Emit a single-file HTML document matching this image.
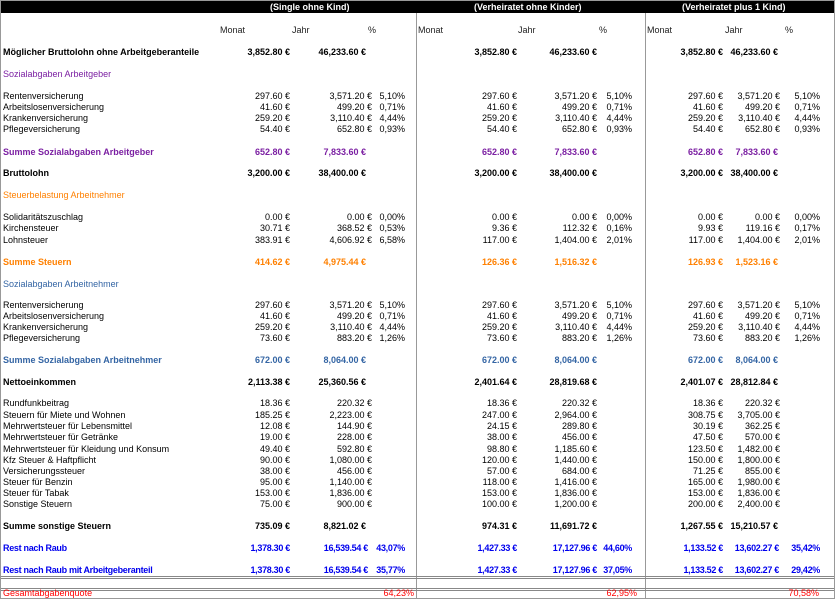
<!DOCTYPE html>
<html><head><meta charset="utf-8"><style>
body{margin:0;width:835px;height:600px;background:#fff;position:relative;overflow:hidden;font-family:"Liberation Sans",sans-serif;font-size:9px;color:#000}
.hb{position:absolute;top:1px;left:1px;width:833px;height:12px;background:#000}
.ht{position:absolute;top:1px;height:12px;line-height:12px;color:#fff;font-weight:bold;font-size:9px}
.v{position:absolute;top:13px;width:1px;height:585px;background:#999}
.h{position:absolute;left:1px;width:833px;height:1px;background:#888}
.r{position:absolute;left:0;width:835px;height:12px;line-height:12px}
.r span{position:absolute;white-space:nowrap}
.l{left:3px}
.a1{right:545px}.b1{right:463px}.c1{right:430px}
.a2{right:318px}.b2{right:238px}.c2{right:203px}
.a3{right:112px}.b3{right:55px}.c3{right:15px}
.bd{font-weight:bold}
.bd .b1{right:469px}.bd .b2{right:238px}.bd .b3{right:57px}
.pu{color:#7b1fa2}.or{color:#ff8000}.bl{color:#3465a4}.bb{color:#0000ee;font-weight:bold;letter-spacing:-0.3px}.rd{color:#ff0000}
.bb .b1{right:467px}.bb .b3{right:56px}
</style></head><body>
<div class="hb"></div>
<div class="ht" style="left:270px">(Single ohne Kind)</div>
<div class="ht" style="left:474px">(Verheiratet ohne Kinder)</div>
<div class="ht" style="left:682px">(Verheiratet plus 1 Kind)</div>
<div style="position:absolute;left:0;top:0;width:833px;height:597px;border:1px solid #999"></div>
<div class="v" style="left:416px"></div>
<div class="v" style="left:645px"></div>
<div class="h" style="top:576px"></div>
<div class="h" style="top:578px"></div>
<div class="h" style="top:588px"></div>
<div class="h" style="top:590px"></div>

<div class="r" style="top:24px;color:#222"><span style="left:220px">Monat</span><span style="left:292px">Jahr</span><span style="left:368px">%</span><span style="left:418px">Monat</span><span style="left:518px">Jahr</span><span style="left:599px">%</span><span style="left:647px">Monat</span><span style="left:725px">Jahr</span><span style="left:785px">%</span></div>

<div class="r bd" style="top:46px"><span class="l">Möglicher Bruttolohn ohne Arbeitgeberanteile</span><span class="a1">3,852.80 €</span><span class="b1">46,233.60 €</span><span class="a2">3,852.80 €</span><span class="b2">46,233.60 €</span><span class="a3">3,852.80 €</span><span class="b3">46,233.60 €</span></div>
<div class="r pu" style="top:68px"><span class="l">Sozialabgaben Arbeitgeber</span></div>

<div class="r" style="top:90px"><span class="l">Rentenversicherung</span><span class="a1">297.60 €</span><span class="b1">3,571.20 €</span><span class="c1">5,10%</span><span class="a2">297.60 €</span><span class="b2">3,571.20 €</span><span class="c2">5,10%</span><span class="a3">297.60 €</span><span class="b3">3,571.20 €</span><span class="c3">5,10%</span></div>
<div class="r" style="top:101px"><span class="l">Arbeitslosenversicherung</span><span class="a1">41.60 €</span><span class="b1">499.20 €</span><span class="c1">0,71%</span><span class="a2">41.60 €</span><span class="b2">499.20 €</span><span class="c2">0,71%</span><span class="a3">41.60 €</span><span class="b3">499.20 €</span><span class="c3">0,71%</span></div>
<div class="r" style="top:112px"><span class="l">Krankenversicherung</span><span class="a1">259.20 €</span><span class="b1">3,110.40 €</span><span class="c1">4,44%</span><span class="a2">259.20 €</span><span class="b2">3,110.40 €</span><span class="c2">4,44%</span><span class="a3">259.20 €</span><span class="b3">3,110.40 €</span><span class="c3">4,44%</span></div>
<div class="r" style="top:123px"><span class="l">Pflegeversicherung</span><span class="a1">54.40 €</span><span class="b1">652.80 €</span><span class="c1">0,93%</span><span class="a2">54.40 €</span><span class="b2">652.80 €</span><span class="c2">0,93%</span><span class="a3">54.40 €</span><span class="b3">652.80 €</span><span class="c3">0,93%</span></div>

<div class="r bd pu" style="top:146px"><span class="l">Summe Sozialabgaben Arbeitgeber</span><span class="a1">652.80 €</span><span class="b1">7,833.60 €</span><span class="a2">652.80 €</span><span class="b2">7,833.60 €</span><span class="a3">652.80 €</span><span class="b3">7,833.60 €</span></div>
<div class="r bd" style="top:167px"><span class="l">Bruttolohn</span><span class="a1">3,200.00 €</span><span class="b1">38,400.00 €</span><span class="a2">3,200.00 €</span><span class="b2">38,400.00 €</span><span class="a3">3,200.00 €</span><span class="b3">38,400.00 €</span></div>
<div class="r or" style="top:189px"><span class="l">Steuerbelastung Arbeitnehmer</span></div>

<div class="r" style="top:211px"><span class="l">Solidaritätszuschlag</span><span class="a1">0.00 €</span><span class="b1">0.00 €</span><span class="c1">0,00%</span><span class="a2">0.00 €</span><span class="b2">0.00 €</span><span class="c2">0,00%</span><span class="a3">0.00 €</span><span class="b3">0.00 €</span><span class="c3">0,00%</span></div>
<div class="r" style="top:222px"><span class="l">Kirchensteuer</span><span class="a1">30.71 €</span><span class="b1">368.52 €</span><span class="c1">0,53%</span><span class="a2">9.36 €</span><span class="b2">112.32 €</span><span class="c2">0,16%</span><span class="a3">9.93 €</span><span class="b3">119.16 €</span><span class="c3">0,17%</span></div>
<div class="r" style="top:234px"><span class="l">Lohnsteuer</span><span class="a1">383.91 €</span><span class="b1">4,606.92 €</span><span class="c1">6,58%</span><span class="a2">117.00 €</span><span class="b2">1,404.00 €</span><span class="c2">2,01%</span><span class="a3">117.00 €</span><span class="b3">1,404.00 €</span><span class="c3">2,01%</span></div>

<div class="r bd or" style="top:256px"><span class="l">Summe Steuern</span><span class="a1">414.62 €</span><span class="b1">4,975.44 €</span><span class="a2">126.36 €</span><span class="b2">1,516.32 €</span><span class="a3">126.93 €</span><span class="b3">1,523.16 €</span></div>
<div class="r bl" style="top:278px"><span class="l">Sozialabgaben Arbeitnehmer</span></div>

<div class="r" style="top:299px"><span class="l">Rentenversicherung</span><span class="a1">297.60 €</span><span class="b1">3,571.20 €</span><span class="c1">5,10%</span><span class="a2">297.60 €</span><span class="b2">3,571.20 €</span><span class="c2">5,10%</span><span class="a3">297.60 €</span><span class="b3">3,571.20 €</span><span class="c3">5,10%</span></div>
<div class="r" style="top:310px"><span class="l">Arbeitslosenversicherung</span><span class="a1">41.60 €</span><span class="b1">499.20 €</span><span class="c1">0,71%</span><span class="a2">41.60 €</span><span class="b2">499.20 €</span><span class="c2">0,71%</span><span class="a3">41.60 €</span><span class="b3">499.20 €</span><span class="c3">0,71%</span></div>
<div class="r" style="top:321px"><span class="l">Krankenversicherung</span><span class="a1">259.20 €</span><span class="b1">3,110.40 €</span><span class="c1">4,44%</span><span class="a2">259.20 €</span><span class="b2">3,110.40 €</span><span class="c2">4,44%</span><span class="a3">259.20 €</span><span class="b3">3,110.40 €</span><span class="c3">4,44%</span></div>
<div class="r" style="top:332px"><span class="l">Pflegeversicherung</span><span class="a1">73.60 €</span><span class="b1">883.20 €</span><span class="c1">1,26%</span><span class="a2">73.60 €</span><span class="b2">883.20 €</span><span class="c2">1,26%</span><span class="a3">73.60 €</span><span class="b3">883.20 €</span><span class="c3">1,26%</span></div>

<div class="r bd bl" style="top:354px"><span class="l">Summe Sozialabgaben Arbeitnehmer</span><span class="a1">672.00 €</span><span class="b1">8,064.00 €</span><span class="a2">672.00 €</span><span class="b2">8,064.00 €</span><span class="a3">672.00 €</span><span class="b3">8,064.00 €</span></div>
<div class="r bd" style="top:376px"><span class="l">Nettoeinkommen</span><span class="a1">2,113.38 €</span><span class="b1">25,360.56 €</span><span class="a2">2,401.64 €</span><span class="b2">28,819.68 €</span><span class="a3">2,401.07 €</span><span class="b3">28,812.84 €</span></div>

<div class="r" style="top:397px"><span class="l">Rundfunkbeitrag</span><span class="a1">18.36 €</span><span class="b1">220.32 €</span><span class="a2">18.36 €</span><span class="b2">220.32 €</span><span class="a3">18.36 €</span><span class="b3">220.32 €</span></div>
<div class="r" style="top:409px"><span class="l">Steuern für Miete und Wohnen</span><span class="a1">185.25 €</span><span class="b1">2,223.00 €</span><span class="a2">247.00 €</span><span class="b2">2,964.00 €</span><span class="a3">308.75 €</span><span class="b3">3,705.00 €</span></div>
<div class="r" style="top:420px"><span class="l">Mehrwertsteuer für Lebensmittel</span><span class="a1">12.08 €</span><span class="b1">144.90 €</span><span class="a2">24.15 €</span><span class="b2">289.80 €</span><span class="a3">30.19 €</span><span class="b3">362.25 €</span></div>
<div class="r" style="top:431px"><span class="l">Mehrwertsteuer für Getränke</span><span class="a1">19.00 €</span><span class="b1">228.00 €</span><span class="a2">38.00 €</span><span class="b2">456.00 €</span><span class="a3">47.50 €</span><span class="b3">570.00 €</span></div>
<div class="r" style="top:443px"><span class="l">Mehrwertsteuer für Kleidung und Konsum</span><span class="a1">49.40 €</span><span class="b1">592.80 €</span><span class="a2">98.80 €</span><span class="b2">1,185.60 €</span><span class="a3">123.50 €</span><span class="b3">1,482.00 €</span></div>
<div class="r" style="top:454px"><span class="l">Kfz Steuer &amp; Haftpflicht</span><span class="a1">90.00 €</span><span class="b1">1,080.00 €</span><span class="a2">120.00 €</span><span class="b2">1,440.00 €</span><span class="a3">150.00 €</span><span class="b3">1,800.00 €</span></div>
<div class="r" style="top:465px"><span class="l">Versicherungssteuer</span><span class="a1">38.00 €</span><span class="b1">456.00 €</span><span class="a2">57.00 €</span><span class="b2">684.00 €</span><span class="a3">71.25 €</span><span class="b3">855.00 €</span></div>
<div class="r" style="top:476px"><span class="l">Steuer für Benzin</span><span class="a1">95.00 €</span><span class="b1">1,140.00 €</span><span class="a2">118.00 €</span><span class="b2">1,416.00 €</span><span class="a3">165.00 €</span><span class="b3">1,980.00 €</span></div>
<div class="r" style="top:487px"><span class="l">Steuer für Tabak</span><span class="a1">153.00 €</span><span class="b1">1,836.00 €</span><span class="a2">153.00 €</span><span class="b2">1,836.00 €</span><span class="a3">153.00 €</span><span class="b3">1,836.00 €</span></div>
<div class="r" style="top:498px"><span class="l">Sonstige Steuern</span><span class="a1">75.00 €</span><span class="b1">900.00 €</span><span class="a2">100.00 €</span><span class="b2">1,200.00 €</span><span class="a3">200.00 €</span><span class="b3">2,400.00 €</span></div>

<div class="r bd" style="top:520px"><span class="l">Summe sonstige Steuern</span><span class="a1">735.09 €</span><span class="b1">8,821.02 €</span><span class="a2">974.31 €</span><span class="b2">11,691.72 €</span><span class="a3">1,267.55 €</span><span class="b3">15,210.57 €</span></div>
<div class="r bb" style="top:542px"><span class="l">Rest nach Raub</span><span class="a1">1,378.30 €</span><span class="b1">16,539.54 €</span><span class="c1">43,07%</span><span class="a2">1,427.33 €</span><span class="b2">17,127.96 €</span><span class="c2">44,60%</span><span class="a3">1,133.52 €</span><span class="b3">13,602.27 €</span><span class="c3">35,42%</span></div>
<div class="r bb" style="top:564px"><span class="l">Rest nach Raub mit Arbeitgeberanteil</span><span class="a1">1,378.30 €</span><span class="b1">16,539.54 €</span><span class="c1">35,77%</span><span class="a2">1,427.33 €</span><span class="b2">17,127.96 €</span><span class="c2">37,05%</span><span class="a3">1,133.52 €</span><span class="b3">13,602.27 €</span><span class="c3">29,42%</span></div>
<div class="r rd" style="top:587px"><span class="l">Gesamtabgabenquote</span><span style="right:421px">64,23%</span><span style="right:198px">62,95%</span><span style="right:16px">70,58%</span></div>
</body></html>
